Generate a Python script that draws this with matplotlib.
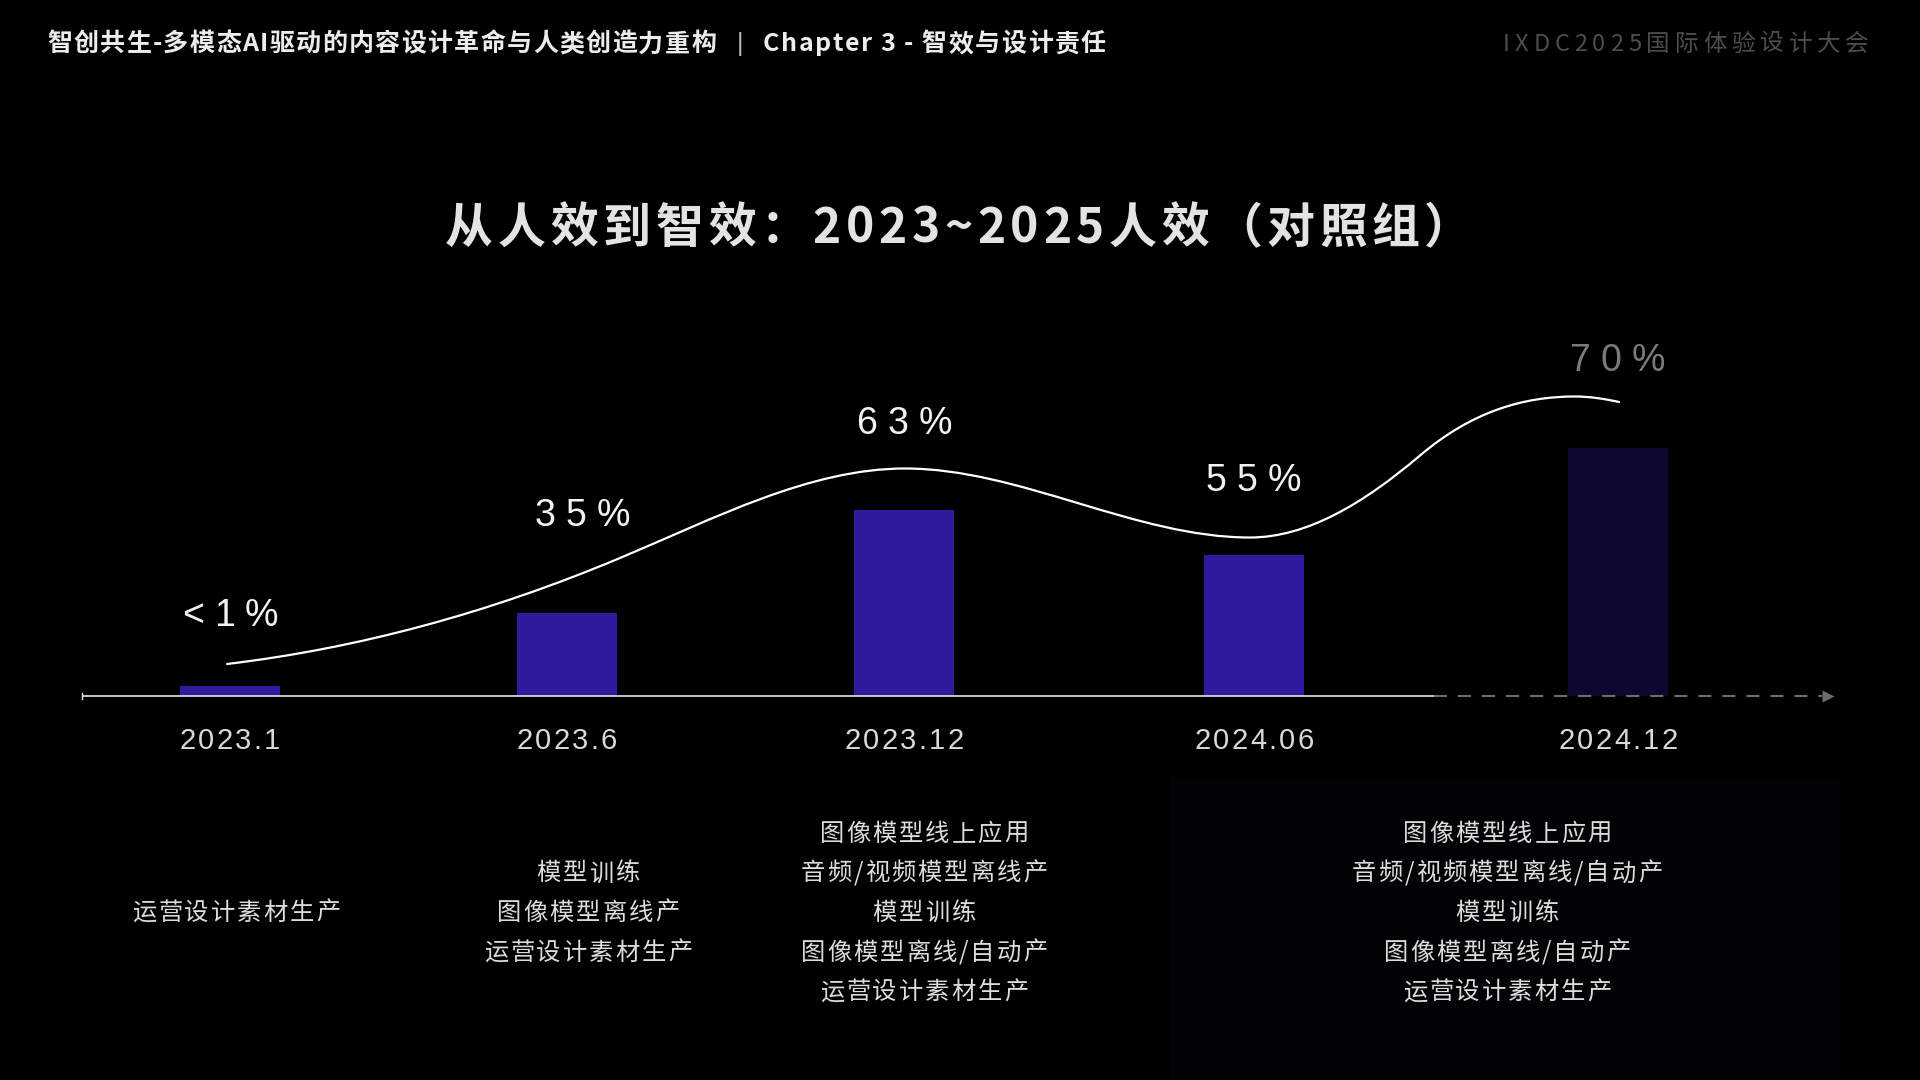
import numpy as np
import matplotlib
matplotlib.use('Agg')
import matplotlib.pyplot as plt
from matplotlib import font_manager as fm
from matplotlib.ft2font import FT2Font
from matplotlib.path import Path
from matplotlib.patches import PathPatch, Rectangle

plt.rcParams['lines.scale_dashes'] = False

# ---------------- data ----------------
periods = ['2023.1', '2023.6', '2023.12', '2024.06', '2024.12']
share_labels = ['<1%', '35%', '63%', '55%', '70%']
bar_heights = [10, 83, 186, 141, 248]          # drawn bar height above the axis (px)
bar_colors = ['#2e1a9c', '#2e1a9c', '#2e1a9c', '#2e1a9c', '#0e0830']
label_colors = ['#f2f2f2', '#f2f2f2', '#f2f2f2', '#f2f2f2', '#7a7a7a']

# trend curve anchor points (x, height above axis) and their slopes
curve_x = [227, 620, 905, 1250, 1420, 1575, 1619]
curve_y = [31.5, 137.5, 227, 158, 240, 299, 293.5]
curve_slope = [0.12, 0.42, 0.0, 0.0, 0.85, 0.0, -0.22]

capabilities = [
    ['运营设计素材生产'],
    ['模型训练', '图像模型离线产', '运营设计素材生产'],
    ['图像模型线上应用', '音频/视频模型离线产', '模型训练', '图像模型离线/自动产', '运营设计素材生产'],
    ['图像模型线上应用', '音频/视频模型离线/自动产', '模型训练', '图像模型离线/自动产', '运营设计素材生产'],
]

header_left = '智创共生-多模态AI驱动的内容设计革命与人类创造力重构'
header_chapter = 'Chapter 3 - 智效与设计责任'
header_right = 'IXDC2025国际体验设计大会'
title = '从人效到智效：2023~2025人效（对照组）'

# ---------------- layout ----------------
W, H, DPI = 1920, 1080, 100
BASE = 695.5            # pixel row of the axis line
bar_x = [230, 567, 904, 1254, 1618]
label_x = [230, 582, 904, 1253, 1617]
label_yc = [612, 512, 420, 477, 357]
cap_x = [236, 588, 924, 1507]

fig = plt.figure(figsize=(W / DPI, H / DPI), dpi=DPI, facecolor='black')
ax = fig.add_axes([0, 0, 1, 1])
ax.set_facecolor('black')
ax.set_xlim(0, W)
ax.set_ylim(BASE - H, BASE)
ax.axis('off')

CJK = ['Noto Sans CJK SC', 'DejaVu Sans']
LAT = ['Liberation Sans', 'DejaVu Sans']

_fcache = {}


def advances(s, family, size, weight):
    prop = fm.FontProperties(family=family, size=size, weight=weight)
    path = fm.findfont(prop)
    key = (path, size)
    if key not in _fcache:
        f = FT2Font(path)
        f.set_size(size, DPI)
        _fcache[key] = f
    f = _fcache[key]
    out = []
    for c in s:
        g = f.load_char(ord(c))
        out.append(g.linearHoriAdvance / 65536)
    return out


def stext(x, yc_px, s, size, spacing=0.0, ha='center', family=CJK,
          weight='normal', color='white', fit=None, zorder=5):
    adv = advances(s, family, size, weight)
    if fit is not None:
        spacing = (fit - sum(adv)) / max(len(s) - 1, 1)
    total = sum(adv) + spacing * (len(s) - 1)
    if ha == 'center':
        x0 = x - total / 2
    elif ha == 'right':
        x0 = x - total
    else:
        x0 = x
    em = size * DPI / 72
    yb = BASE - (yc_px + 0.37 * em)
    cx = x0
    for c, a in zip(s, adv):
        if not c.isspace():
            ax.text(cx, yb, c, ha='left', va='baseline', fontsize=size,
                    family=family, weight=weight, color=color, zorder=zorder)
        cx += a + spacing


# very subtle panel behind the right-hand text block
ax.add_patch(Rectangle((1170, BASE - H), 670, H - 777, facecolor='#030305',
                       edgecolor='none', zorder=0))

# header
stext(47, 42, header_left, 18, ha='left', weight='bold', color='#ececec', fit=716 - 47)
stext(740, 42, '|', 18, ha='center', family=LAT, color='#bdbdbd')
stext(763, 42, header_chapter, 18, ha='left', weight='bold', color='#ececec', fit=1106 - 763)
stext(1503, 42, header_right, 17, ha='left', weight='light', color='#4d4d4d', fit=1869 - 1503)

# title
stext(445, 225, title, 34.5, ha='left', weight='bold', color='#e3e3e3', fit=1472 - 445)

# bars
ax.bar(bar_x, bar_heights, width=100, color=bar_colors, bottom=0, zorder=2,
       linewidth=0)

# axis line
ax.plot([82, 1434], [0, 0], color='#e6e6e6', lw=1.2, zorder=3, solid_capstyle='butt')
ax.plot([82, 82], [-3, 3], color='#e6e6e6', lw=1.0, zorder=3)
ax.plot([1434, 1822], [0, 0], color='#6e6e6e', lw=1.5, zorder=3,
        dashes=(9.4, 7.9))
ax.plot([1828], [0], marker='>', ms=8, color='#6e6e6e', mec='none', zorder=3)

# smooth trend curve: cubic Hermite segments through the anchors
verts = [(curve_x[0], curve_y[0])]
codes = [Path.MOVETO]
for i in range(len(curve_x) - 1):
    x1, y1, s1 = curve_x[i], curve_y[i], curve_slope[i]
    x2, y2, s2 = curve_x[i + 1], curve_y[i + 1], curve_slope[i + 1]
    d = (x2 - x1) / 3
    verts += [(x1 + d, y1 + s1 * d), (x2 - d, y2 - s2 * d), (x2, y2)]
    codes += [Path.CURVE4] * 3
ax.add_patch(PathPatch(Path(verts, codes), facecolor='none', edgecolor='white',
                       lw=1.6, zorder=4, capstyle='round'))

# value labels
for xv, yc, lab, col in zip(label_x, label_yc, share_labels, label_colors):
    stext(xv, yc, lab, 27, spacing=10, family=LAT, color=col)

# period tick labels
for xv, lab in zip(bar_x, periods):
    stext(xv, 738, lab, 21, spacing=2.2, family=LAT, color='#d9d9d9')

# capability lists
for xc, lines in zip(cap_x, capabilities):
    k = len(lines)
    for j, line in enumerate(lines):
        yc = 911 + (j - (k - 1) / 2) * 39.6
        stext(xc, yc, line, 17.5, spacing=2, color='#dcdcdc')

fig.savefig('out.png', dpi=DPI, facecolor='black')
